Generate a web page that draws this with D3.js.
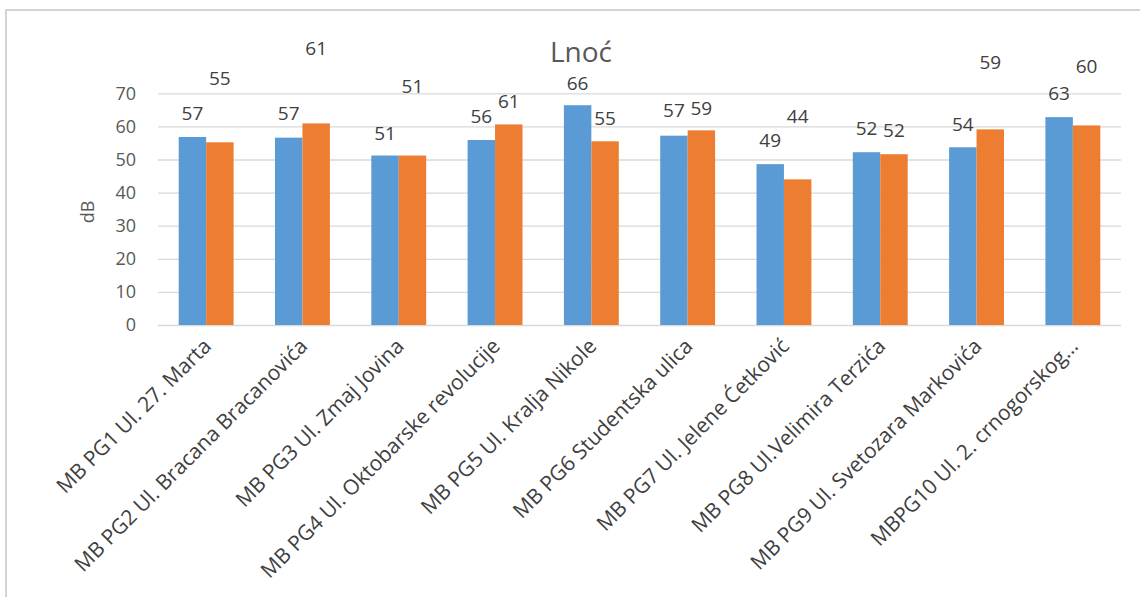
<!DOCTYPE html>
<html>
<head>
<meta charset="utf-8">
<script src="https://cdn.jsdelivr.net/npm/d3@7/dist/d3.min.js"></script>
<style>
  html, body { margin: 0; padding: 0; background: #fff; }
  svg { display: block; }
  text { font-family: "Open Sans", "Noto Sans", sans-serif; }
</style>
</head>
<body>
<svg id="chart" width="1140" height="597"></svg>
<script>
// ---- data ----
const categories = [
  "MB PG1 Ul. 27. Marta",
  "MB PG2 Ul. Bracana Bracanovića",
  "MB PG3 Ul. Zmaj Jovina",
  "MB PG4 Ul. Oktobarske revolucije",
  "MB PG5 Ul. Kralja Nikole",
  "MB PG6 Studentska ulica",
  "MB PG7  Ul. Jelene Ćetković",
  "MB PG8 Ul.Velimira Terzića",
  "MB PG9 Ul. Svetozara Markovića",
  "MBPG10 Ul. 2. crnogorskog…"
];
const seriesBlue   = [56.8, 56.6, 51.2, 55.9, 66.4, 57.2, 48.6, 52.2, 53.7, 62.8];
const seriesOrange = [55.2, 60.9, 51.2, 60.6, 55.5, 58.8, 44.0, 51.6, 59.1, 60.3];
const labelsBlue   = ["57","57","51","56","66","57","49","52","54","63"];
const labelsOrange = ["55","61","51","61","55","59","44","52","59","60"];
// label anchor heights (in dB units) as placed in the original
const labelAtBlue   = [63.9, 63.9, 58.0, 62.9, 72.9, 64.9, 55.8, 59.4, 60.6, 69.9];
const labelAtOrange = [74.4, 83.5, 72.1, 67.7, 62.4, 65.4, 63.1, 58.8, 79.3, 78.2];
const yTicks = [0, 10, 20, 30, 40, 50, 60, 70];
const titleText = "Lnoć";
const yTitle = "dB";

// ---- layout ----
const svg = d3.select("#chart");
const plotL = 158, plotR = 1121, plotT = 93.3, plotB = 325;
const colors = ["#5b9bd5", "#ed7d31"];

// frame border
svg.append("rect")
  .attr("x", 6).attr("y", 10).attr("width", 1300).attr("height", 800)
  .attr("fill", "none").attr("stroke", "#d4d4d4").attr("stroke-width", 2);

const x = d3.scaleBand().domain(d3.range(categories.length))
  .range([plotL, plotR]).paddingInner(0.43).paddingOuter(0.215);
const xs = d3.scaleBand().domain([0, 1]).range([0, x.bandwidth()]);
const y = d3.scaleLinear().domain([0, 70]).range([plotB, plotT]);

// gridlines
const yAxis = d3.axisLeft(y).tickValues(yTicks).tickSize(-(plotR - plotL)).tickPadding(22);
const gy = svg.append("g").attr("transform", `translate(${plotL},0)`).call(yAxis);
gy.select(".domain").remove();
gy.selectAll(".tick line").attr("stroke", "#d9d9d9").attr("stroke-width", 1.3);
gy.selectAll(".tick text").attr("fill", "#595959").attr("font-size", 18)
  .style("font-family", '"Open Sans", sans-serif');

// bars
const series = [seriesBlue, seriesOrange];
series.forEach((vals, si) => {
  svg.append("g").selectAll("rect").data(vals).join("rect")
    .attr("x", (d, i) => x(i) + xs(si))
    .attr("width", xs.bandwidth())
    .attr("y", d => y(d))
    .attr("height", d => y(0) - y(d))
    .attr("fill", colors[si]);
});

// data labels
const labs = [[labelsBlue, labelAtBlue], [labelsOrange, labelAtOrange]];
labs.forEach(([texts, at], si) => {
  svg.append("g").selectAll("text").data(texts).join("text")
    .attr("x", (d, i) => x(i) + xs(si) + xs.bandwidth() / 2)
    .attr("y", (d, i) => y(at[i]))
    .attr("dy", "0.35em")
    .attr("text-anchor", "middle")
    .attr("font-size", 19)
    .attr("fill", "#404040")
    .text(d => d);
});

// category labels
svg.append("g").selectAll("text").data(categories).join("text")
  .attr("transform", (d, i) => `translate(${x(i) + x.bandwidth() / 2 - 4},${plotB + 12}) rotate(-45)`)
  .attr("text-anchor", "end")
  .attr("dy", "0.7em")
  .attr("font-size", 21)
  .attr("fill", "#404040")
  .text(d => d);

// title
svg.append("text")
  .attr("x", 581).attr("y", 52).attr("dy", "0.35em")
  .attr("text-anchor", "middle").attr("font-size", 28).attr("fill", "#595959")
  .text(titleText);

// y title
svg.append("text")
  .attr("transform", `translate(88,212) rotate(-90)`)
  .attr("dy", "0.35em").attr("text-anchor", "middle")
  .attr("font-size", 18).attr("fill", "#595959")
  .text(yTitle);
</script>
</body>
</html>
